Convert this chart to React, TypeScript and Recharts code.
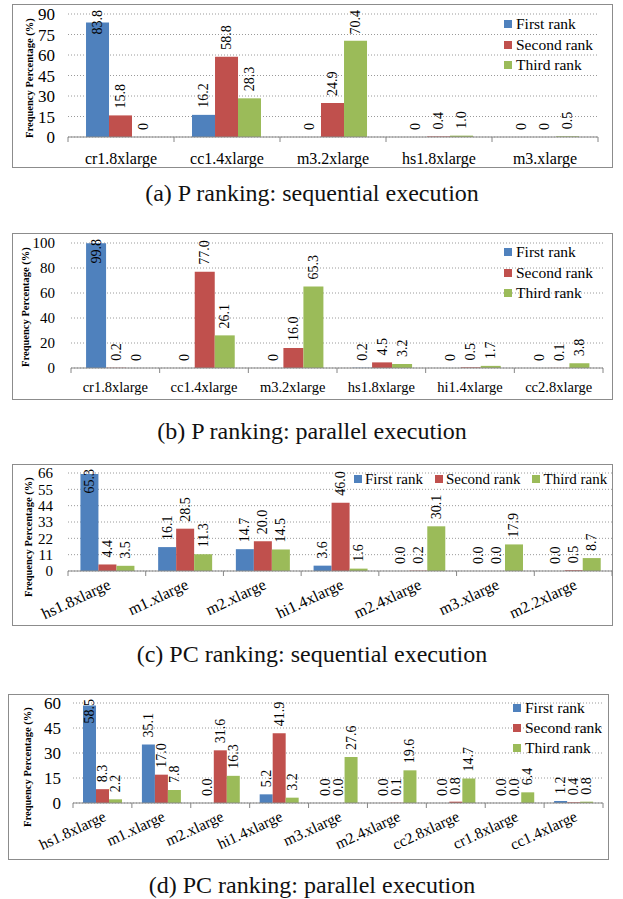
import React from 'react';
import { BarChart, Bar, XAxis, YAxis, CartesianGrid, Legend, LabelList } from 'recharts';

const FONT = '"Liberation Serif", "Times New Roman", serif';
const seriesNames = ['First rank', 'Second rank', 'Third rank'];
const colors = ['#4F81BD', '#C0504D', '#9BBB59'];

// (a) P ranking: sequential execution
const catsA = ['cr1.8xlarge', 'cc1.4xlarge', 'm3.2xlarge', 'hs1.8xlarge', 'm3.xlarge'];
const firstA = [83.8, 16.2, 0, 0, 0];
const secondA = [15.8, 58.8, 24.9, 0.4, 0];
const thirdA = [0, 28.3, 70.4, 1.0, 0.5];
const ticksA = [0, 15, 30, 45, 60, 75, 90];

// (b) P ranking: parallel execution
const catsB = ['cr1.8xlarge', 'cc1.4xlarge', 'm3.2xlarge', 'hs1.8xlarge', 'hi1.4xlarge', 'cc2.8xlarge'];
const firstB = [99.8, 0, 0, 0.2, 0, 0];
const secondB = [0.2, 77.0, 16.0, 4.5, 0.5, 0.1];
const thirdB = [0, 26.1, 65.3, 3.2, 1.7, 3.8];
const ticksB = [0, 20, 40, 60, 80, 100];

// (c) PC ranking: sequential execution
const catsC = ['hs1.8xlarge', 'm1.xlarge', 'm2.xlarge', 'hi1.4xlarge', 'm2.4xlarge', 'm3.xlarge', 'm2.2xlarge'];
const firstC = [65.3, 16.1, 14.7, 3.6, 0.0, 0.0, 0.0];
const secondC = [4.4, 28.5, 20.0, 46.0, 0.2, 0.0, 0.5];
const thirdC = [3.5, 11.3, 14.5, 1.6, 30.1, 17.9, 8.7];
const ticksC = [0, 11, 22, 33, 44, 55, 66];

// (d) PC ranking: parallel execution
const catsD = ['hs1.8xlarge', 'm1.xlarge', 'm2.xlarge', 'hi1.4xlarge', 'm3.xlarge', 'm2.4xlarge', 'cc2.8xlarge', 'cr1.8xlarge', 'cc1.4xlarge'];
const firstD = [58.5, 35.1, 0.0, 5.2, 0.0, 0.0, 0.0, 0.0, 1.2];
const secondD = [8.3, 17.0, 31.6, 41.9, 0.0, 0.1, 0.8, 0.0, 0.4];
const thirdD = [2.2, 7.8, 16.3, 3.2, 27.6, 19.6, 14.7, 6.4, 0.8];
const ticksD = [0, 15, 30, 45, 60];

const plainZero = (v: number) => (v === 0 ? '0' : v.toFixed(1));
const oneDecimal = (v: number) => v.toFixed(1);

// rough text length in em for the digit labels
const emLen = (s: string) => s.split('').reduce((a, c) => a + (c === '.' ? 0.25 : 0.5), 0);

const LABEL_FS = 14;

const makeLabel = (plotTop: number, fmt: (v: number) => string) => (p: any) => {
  const vb = p.viewBox || {};
  const x = vb.x ?? p.x;
  const y = vb.y ?? p.y;
  const w = vb.width ?? p.width;
  if (x == null || y == null) return null;
  const text = fmt(Number(p.value));
  const len = emLen(text) * LABEL_FS;
  const cx = x + w / 2;
  const sy = Math.max(y - 7, plotTop - 4 + len);
  return (
    <text
      x={cx}
      y={sy}
      transform={`rotate(-90 ${cx} ${sy})`}
      textAnchor="start"
      dominantBaseline="central"
      fontSize={LABEL_FS}
      fontFamily={FONT}
      fill="#000"
    >
      {text}
    </text>
  );
};

// category label plus the tick marks on the category edges (Excel style)
const CatTick = (props: any) => {
  const { x, y, payload, index, count, band, angle, fontSize, dy } = props;
  const name = payload.value;
  const py = y + dy;
  const label = !angle ? (
    <text x={x} y={py} textAnchor="middle" dominantBaseline="central" fontSize={fontSize} fontFamily={FONT} fill="#000">
      {name}
    </text>
  ) : (
    <text x={x} y={py} dy="0.71em" textAnchor="end" transform={`rotate(${angle} ${x} ${py})`} fontSize={fontSize} fontFamily={FONT} fill="#000">
      {name}
    </text>
  );
  return (
    <g>
      <line x1={x - band / 2} y1={y} x2={x - band / 2} y2={y + 5} stroke="#868686" />
      {index === count - 1 && <line x1={x + band / 2} y1={y} x2={x + band / 2} y2={y + 5} stroke="#868686" />}
      {label}
    </g>
  );
};

const LegendBox = ({ horizontal, fs, rowH }: any) => (
  <div
    style={{
      fontFamily: FONT,
      fontSize: fs,
      color: '#000',
      display: horizontal ? 'flex' : 'block',
      lineHeight: rowH + 'px',
      whiteSpace: 'nowrap',
    }}
  >
    {seriesNames.map((n, i) => (
      <div key={n} style={{ display: 'flex', alignItems: 'center', marginRight: horizontal ? 12 : 0 }}>
        <span style={{ width: 8, height: 8, background: colors[i], marginRight: horizontal ? 3 : 4, display: 'inline-block' }} />
        {n}
      </div>
    ))}
  </div>
);

type PanelProps = {
  box: { x: number; y: number; w: number; h: number };
  top: number;
  right: number;
  left: number;
  bottom: number;
  cats: string[];
  first: number[];
  second: number[];
  third: number[];
  ticks: number[];
  yFont: number;
  yGap: number;
  catFont: number;
  catDy: number;
  angle: number;
  legend: { horizontal: boolean; left: number; top: number; fs: number; rowH: number };
  yLabel: { x: number; y: number };
  gap: string;
  fmt: (v: number) => string;
};

const Panel = (cfg: PanelProps) => {
  const data = cfg.cats.map((name, i) => ({ name, first: cfg.first[i], second: cfg.second[i], third: cfg.third[i] }));
  const n = cfg.cats.length;
  const band = (cfg.box.w - cfg.left - cfg.right) / n;
  const max = cfg.ticks[cfg.ticks.length - 1];
  const keys = ['first', 'second', 'third'];
  return (
    <>
      <div
        style={{
          position: 'absolute',
          left: cfg.box.x,
          top: cfg.box.y,
          width: cfg.box.w,
          height: cfg.box.h,
          border: '1.5px solid #8c8c8c',
          boxSizing: 'border-box',
        }}
      />
      <div style={{ position: 'absolute', left: cfg.box.x, top: cfg.box.y }}>
        <BarChart
          width={cfg.box.w}
          height={cfg.box.h}
          data={data}
          margin={{ top: cfg.top, right: cfg.right, left: 0, bottom: 0 }}
          barCategoryGap={cfg.gap}
          barGap={0}
        >
          <CartesianGrid vertical={false} stroke="#9a9a9a" strokeDasharray="1 2" />
          <XAxis
            dataKey="name"
            interval={0}
            height={cfg.bottom}
            tickLine={false}
            tickSize={0}
            tickMargin={0}
            axisLine={{ stroke: '#868686' }}
            tick={(p: any) => (
              <CatTick {...p} count={n} band={band} angle={cfg.angle} fontSize={cfg.catFont} dy={cfg.catDy} />
            )}
          />
          <YAxis
            width={cfg.left}
            domain={[0, max]}
            ticks={cfg.ticks}
            interval={0}
            axisLine={false}
            tickLine={false}
            tickSize={0}
            tickMargin={cfg.yGap}
            tick={{ fontSize: cfg.yFont, fill: '#000', fontFamily: FONT }}
            label={{
              content: () => (
                <text
                  x={cfg.yLabel.x}
                  y={cfg.yLabel.y}
                  transform={`rotate(-90 ${cfg.yLabel.x} ${cfg.yLabel.y})`}
                  textAnchor="middle"
                  dominantBaseline="central"
                  fontSize={10.5}
                  fontWeight="bold"
                  fontFamily={FONT}
                  fill="#000"
                >
                  Frequency Percentage (%)
                </text>
              ),
            }}
          />
          <Legend
            layout={cfg.legend.horizontal ? 'horizontal' : 'vertical'}
            align="center"
            verticalAlign="middle"
            wrapperStyle={{ left: cfg.legend.left, top: cfg.legend.top, width: 'auto', height: 'auto' }}
            content={() => <LegendBox horizontal={cfg.legend.horizontal} fs={cfg.legend.fs} rowH={cfg.legend.rowH} />}
          />
          {keys.map((k, i) => (
            <Bar
              key={k}
              dataKey={k}
              name={seriesNames[i]}
              fill={colors[i]}
              minPointSize={0.01}
              isAnimationActive={false}
            >
              <LabelList dataKey={k} content={makeLabel(cfg.top, cfg.fmt)} />
            </Bar>
          ))}
        </BarChart>
      </div>
    </>
  );
};

const Caption = ({ text, cy }: { text: string; cy: number }) => (
  <div
    style={{
      position: 'absolute',
      left: 0,
      width: 624,
      top: cy - 12,
      height: 24,
      lineHeight: '24px',
      textAlign: 'center',
      fontFamily: FONT,
      fontSize: 24,
      color: '#111',
    }}
  >
    {text}
  </div>
);

export default function App() {
  return (
    <div style={{ position: 'absolute', left: 0, top: 0, width: 623, height: 899, background: '#fff', overflow: 'hidden' }}>
      <Panel
        box={{ x: 12, y: 4, w: 601, h: 164 }}
        top={10}
        right={15}
        left={56}
        bottom={31}
        cats={catsA}
        first={firstA}
        second={secondA}
        third={thirdA}
        ticks={ticksA}
        yFont={17}
        yGap={13}
        catFont={16}
        catDy={21}
        angle={0}
        legend={{ horizontal: false, left: 492, top: 10, fs: 15.5, rowH: 20.5 }}
        yLabel={{ x: 17, y: 74 }}
        gap="17%"
        fmt={plainZero}
      />
      <Caption text="(a) P ranking: sequential execution" cy={193} />
      <Panel
        box={{ x: 12, y: 233, w: 601, h: 167 }}
        top={10}
        right={10}
        left={59}
        bottom={32}
        cats={catsB}
        first={firstB}
        second={secondB}
        third={thirdB}
        ticks={ticksB}
        yFont={15}
        yGap={16}
        catFont={14.5}
        catDy={19}
        angle={0}
        legend={{ horizontal: false, left: 492, top: 9, fs: 15.5, rowH: 20.5 }}
        yLabel={{ x: 13, y: 74 }}
        gap="17%"
        fmt={plainZero}
      />
      <Caption text="(b) P ranking: parallel execution" cy={431} />
      <Panel
        box={{ x: 12, y: 464, w: 601, h: 162 }}
        top={9}
        right={1}
        left={56}
        bottom={55}
        cats={catsC}
        first={firstC}
        second={secondC}
        third={thirdC}
        ticks={ticksC}
        yFont={15}
        yGap={15}
        catFont={16}
        catDy={7}
        angle={-25}
        legend={{ horizontal: true, left: 342, top: 5, fs: 15, rowH: 20 }}
        yLabel={{ x: 16, y: 73 }}
        gap="16%"
        fmt={oneDecimal}
      />
      <Caption text="(c) PC ranking: sequential execution" cy={654} />
      <Panel
        box={{ x: 8, y: 694, w: 601, h: 166 }}
        top={9}
        right={6}
        left={65}
        bottom={57}
        cats={catsD}
        first={firstD}
        second={secondD}
        third={thirdD}
        ticks={ticksD}
        yFont={17}
        yGap={12}
        catFont={15.5}
        catDy={7}
        angle={-25}
        legend={{ horizontal: false, left: 505, top: 4, fs: 15.5, rowH: 20 }}
        yLabel={{ x: 19, y: 73 }}
        gap="17%"
        fmt={oneDecimal}
      />
      <Caption text="(d) PC ranking: parallel execution" cy={885} />
    </div>
  );
}
